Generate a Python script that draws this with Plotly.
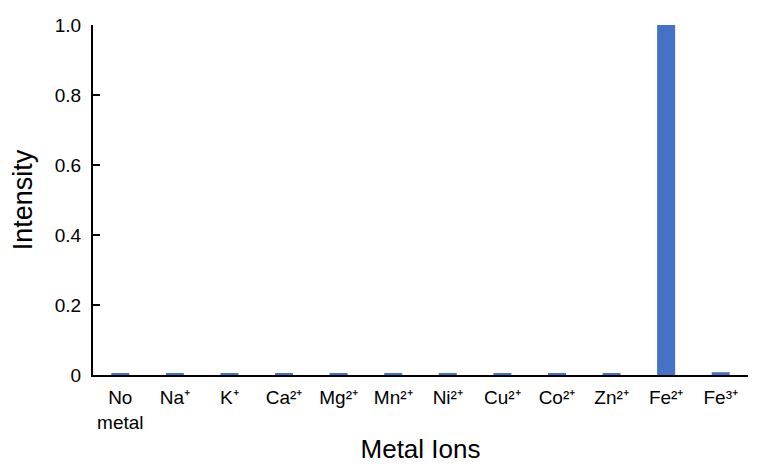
import plotly.graph_objects as go

categories = ["No<br>metal", "Na⁺", "K⁺", "Ca²⁺", "Mg²⁺", "Mn²⁺", "Ni²⁺", "Cu²⁺", "Co²⁺",
              "Zn²⁺", "Fe²⁺", "Fe³⁺"]
intensity = [0.005, 0.004, 0.004, 0.004, 0.005, 0.005, 0.005, 0.005, 0.005, 0.005, 1.0, 0.008]
ytick_vals = [0, 0.2, 0.4, 0.6, 0.8, 1.0]
ytick_text = ["0", "0.2", "0.4", "0.6", "0.8", "1.0"]

fig = go.Figure(go.Bar(x=categories, y=intensity, marker=dict(color="#4472C4", line=dict(width=0))))

fig.update_layout(
    width=768, height=468,
    margin=dict(l=85, r=28, t=17, b=101),
    plot_bgcolor="white", paper_bgcolor="white",
    bargap=0.67,
    font=dict(family="Liberation Sans, Arial, sans-serif", color="black", size=19),
    showlegend=False,
)
fig.update_xaxes(
    showline=True, linecolor="black", linewidth=2, ticks="", showgrid=False,
    title=dict(text="Metal Ions", font=dict(size=26), standoff=8),
    tickfont=dict(size=19), automargin=False, ticklabelstandoff=4,
)
fig.update_yaxes(
    range=[0, 1.0], showline=True, linecolor="black", linewidth=2,
    ticks="inside", ticklen=7, tickwidth=2, tickcolor="black",
    tickvals=ytick_vals, ticktext=ytick_text, showgrid=False, zeroline=False,
    title=dict(text="Intensity", font=dict(size=27), standoff=25),
    tickfont=dict(size=19), automargin=False, ticklabelstandoff=6,
)

fig.write_html("out.html")
